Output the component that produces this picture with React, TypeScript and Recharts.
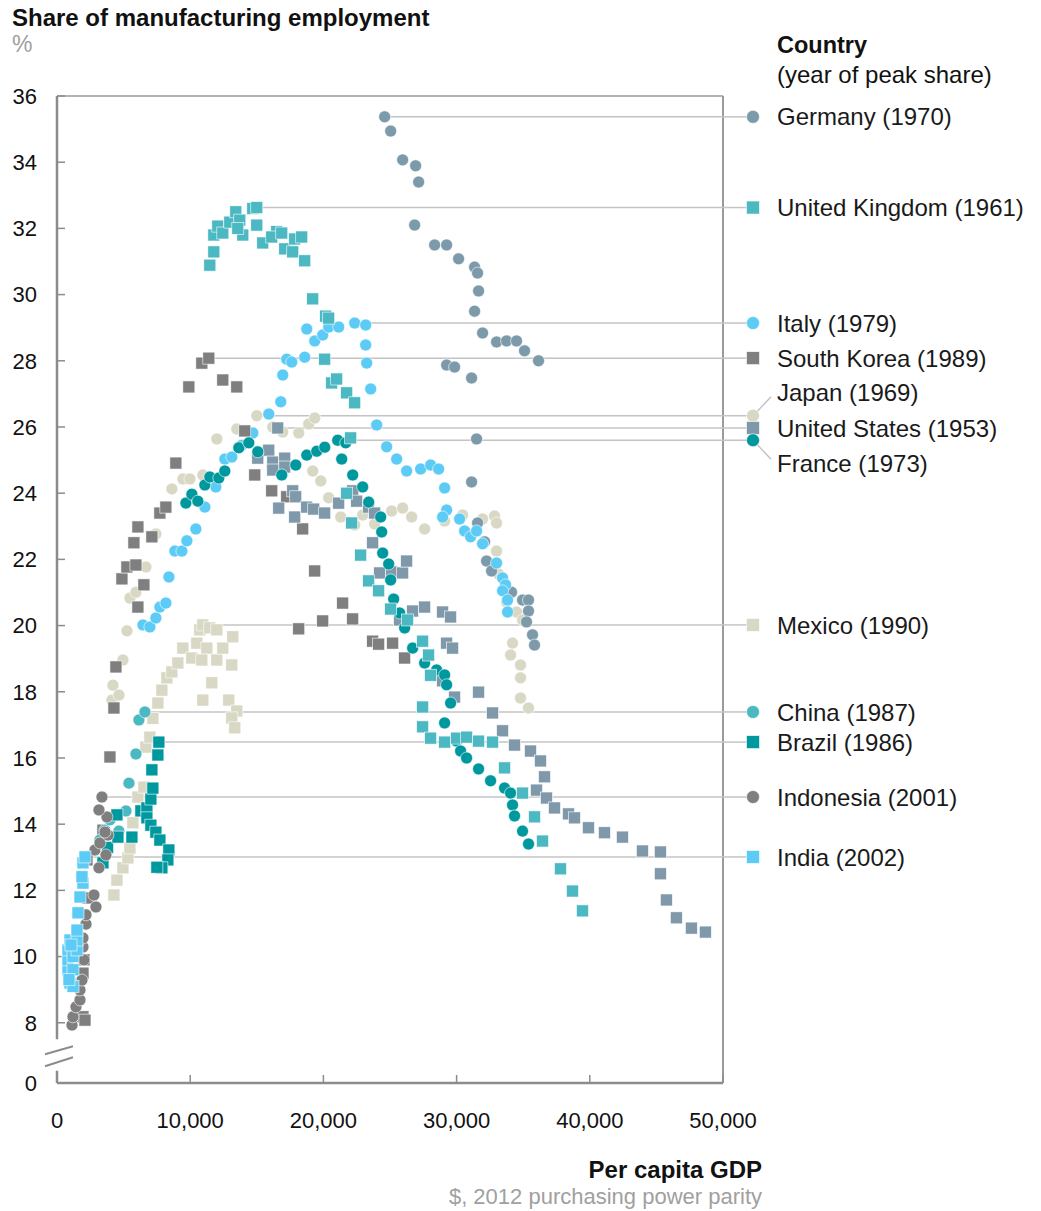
import React from 'react';
import { ScatterChart, Scatter, XAxis, YAxis, ReferenceLine, ReferenceDot } from 'recharts';

// [per capita GDP ($, 2012 PPP), share of manufacturing employment (%)]
type Pt = [number, number];

const GERMANY: Pt[] = [
  [24600, 35.37], [25050, 34.94], [25950, 34.07], [26925, 33.89], [27150, 33.4], [26850, 32.1],
  [28350, 31.5], [29250, 31.5], [30150, 31.08], [31350, 30.83], [31575, 30.65], [31650, 30.11],
  [31350, 29.5], [31950, 28.84], [33000, 28.57], [33750, 28.6], [34500, 28.6], [35100, 28.3],
  [36150, 28.0], [29250, 27.87], [29850, 27.81], [31125, 27.48], [31500, 25.64], [31125, 24.34],
  [31575, 23.1], [32100, 22.53], [32250, 21.95], [32625, 21.65], [34125, 21.01], [34950, 20.77],
  [35400, 20.77], [35400, 20.44], [35250, 20.11], [35700, 19.72], [35850, 19.41],
];

const UK: Pt[] = [
  [11475, 30.89], [11775, 31.29], [11775, 31.8], [12075, 32.07], [12450, 31.86], [12975, 32.19],
  [13425, 32.5], [13725, 32.25], [13950, 31.8], [13575, 32.0], [14700, 32.6], [15000, 32.1],
  [15000, 32.63], [15450, 31.56], [16500, 31.9], [16125, 31.74], [16875, 31.86], [17100, 31.38],
  [17700, 31.29], [17850, 31.68], [18375, 31.74], [18600, 31.02], [19200, 29.87], [20175, 29.35],
  [20400, 29.29], [20100, 28.05], [20625, 27.33], [21000, 27.45], [21750, 27.03], [22350, 26.73],
  [22050, 25.67], [21750, 24.0], [22125, 23.1], [22800, 22.13], [23400, 21.35], [24150, 21.05],
  [25050, 20.5], [26325, 20.17], [27450, 19.53], [27900, 19.11], [28050, 18.5], [27450, 17.54],
  [27450, 16.94], [28050, 16.6], [29100, 16.48], [30000, 16.6], [30750, 16.63], [31650, 16.51],
  [32700, 16.48], [33600, 15.7], [34950, 14.94], [35850, 14.22], [36450, 13.49], [37800, 12.65],
  [38700, 11.98], [39450, 11.38],
];

const ITALY: Pt[] = [
  [6450, 20.02], [6975, 19.96], [7425, 20.23], [7725, 20.56], [8175, 20.68], [8400, 21.47],
  [8850, 22.25], [9375, 22.25], [9750, 22.56], [10425, 22.92], [11100, 23.58], [11925, 24.19],
  [12600, 25.03], [13125, 25.09], [13875, 25.45], [14700, 25.82], [15900, 26.39], [16800, 26.76],
  [16950, 27.57], [17250, 28.05], [17625, 27.96], [18600, 28.11], [18750, 28.96], [19350, 28.6],
  [19950, 28.78], [20400, 29.02], [21150, 29.02], [22350, 29.14], [23175, 29.08], [23175, 28.48],
  [23250, 27.93], [23550, 27.15], [24000, 26.06], [24750, 25.4], [25500, 25.03], [26250, 24.67],
  [27300, 24.73], [28050, 24.85], [28650, 24.73], [29100, 24.16], [29250, 23.49], [28950, 23.28],
  [30225, 23.22], [30600, 22.86], [31050, 22.68], [31500, 22.86], [31950, 22.47], [33000, 21.89],
  [33450, 21.44], [33675, 21.23], [33450, 21.05], [33825, 20.77], [33825, 20.41],
];

const SOUTH_KOREA: Pt[] = [
  [1950, 8.18], [2100, 8.08], [1950, 9.5], [2025, 9.9], [2325, 11.77], [2250, 12.92], [3450, 13.82],
  [3975, 16.03], [4275, 17.51], [4425, 18.75], [4875, 21.41], [5250, 21.77], [5925, 21.83],
  [6525, 21.23], [6075, 20.56], [5775, 22.5], [6075, 22.98], [7125, 22.68], [7725, 23.4],
  [8175, 23.58], [8925, 24.91], [9900, 27.21], [10875, 27.93], [11400, 28.08], [12450, 27.42],
  [13500, 27.21], [14100, 25.88], [14850, 24.55], [16125, 24.07], [17250, 23.89], [18450, 22.92],
  [19350, 21.65], [21450, 20.68], [19950, 20.14], [18150, 19.9], [22200, 20.2], [23700, 19.53],
  [24150, 19.44], [25200, 19.47], [26100, 19.02],
];

const JAPAN: Pt[] = [
  [4125, 17.75], [4200, 18.2], [4650, 17.9], [4950, 18.96], [5250, 19.84], [5475, 20.83],
  [5925, 21.01], [6675, 21.77], [7425, 22.77], [8175, 23.58], [8625, 24.13], [9450, 24.43],
  [9975, 24.43], [10950, 24.55], [12000, 25.64], [13500, 25.94], [15000, 26.34], [16200, 26.0],
  [16950, 25.85], [18150, 25.82], [18900, 26.09], [19350, 26.27], [19200, 24.67], [19800, 24.37],
  [20400, 23.86], [21300, 23.28], [22350, 23.04], [22950, 23.34], [23850, 23.07], [25125, 23.46],
  [25950, 23.55], [26625, 23.28], [27600, 22.92], [29100, 23.16], [30450, 23.34], [31950, 23.22],
  [32850, 23.31], [33000, 23.1], [33000, 22.25], [33150, 21.56], [33750, 20.71], [34500, 20.41],
  [34950, 20.17], [34200, 19.47], [34050, 19.11], [34800, 18.81], [34800, 18.42], [34800, 17.81],
  [35400, 17.51],
];

const UNITED_STATES: Pt[] = [
  [16575, 25.97], [15900, 25.3], [15075, 25.06], [16200, 24.94], [17100, 25.06], [17100, 24.79],
  [16200, 24.7], [17700, 24.07], [17925, 23.89], [16650, 23.55], [17850, 23.28], [18750, 23.58],
  [19275, 23.52], [20100, 23.4], [21150, 23.7], [22200, 24.07], [22500, 23.76], [23400, 23.58],
  [23850, 23.4], [23700, 22.5], [24225, 21.59], [25125, 21.62], [25950, 21.59], [26250, 21.95],
  [26700, 20.44], [25725, 20.17], [27600, 20.56], [28950, 20.41], [29550, 20.26], [29250, 19.47],
  [29700, 19.32], [28950, 18.33], [29850, 17.84], [31650, 17.99], [32700, 17.36], [33450, 16.82],
  [34350, 16.39], [35550, 16.21], [36300, 15.91], [36600, 15.43], [36000, 15.03], [36750, 14.79],
  [37350, 14.49], [38400, 14.31], [38850, 14.19], [39900, 13.89], [41100, 13.74], [42450, 13.61],
  [43950, 13.19], [45300, 13.16], [45300, 12.5], [45750, 11.71], [46500, 11.17], [47625, 10.86],
  [48675, 10.74],
];

const FRANCE: Pt[] = [
  [9675, 23.7], [10125, 23.97], [10575, 23.76], [11100, 24.25], [11475, 24.49], [12150, 24.46],
  [12600, 24.67], [13650, 25.37], [14400, 25.52], [15075, 25.25], [16875, 24.55], [17925, 24.85],
  [18750, 25.15], [19500, 25.27], [20100, 25.39], [21075, 25.6], [21675, 25.52], [21375, 25.03],
  [22200, 24.55], [22950, 24.19], [23400, 23.73], [24300, 23.28], [24375, 22.83], [24450, 22.19],
  [24900, 21.86], [25050, 21.38], [25275, 20.8], [25725, 20.38], [26100, 19.93], [26700, 19.32],
  [27600, 18.87], [28500, 18.66], [29100, 18.51], [29250, 18.21], [29550, 17.66], [29100, 17.06],
  [30000, 16.51], [30300, 16.21], [30750, 16.0], [31650, 15.67], [32550, 15.31], [33600, 15.09],
  [34050, 14.94], [34200, 14.58], [34350, 14.25], [34950, 13.79], [35400, 13.4],
];

const MEXICO: Pt[] = [
  [4275, 11.86], [4500, 12.31], [4950, 12.68], [5325, 12.98], [5475, 13.28], [5700, 14.04],
  [6075, 14.82], [6525, 15.12], [6675, 16.33], [6975, 16.63], [7200, 17.2], [7575, 17.66],
  [7875, 18.05], [8250, 18.42], [8625, 18.6], [9075, 18.87], [9450, 19.32], [10125, 19.02],
  [10500, 19.47], [10725, 19.87], [10950, 20.02], [11475, 19.93], [12000, 19.87], [11250, 19.32],
  [10875, 18.96], [12000, 18.96], [12450, 19.32], [13200, 19.66], [13125, 18.81], [10950, 17.75],
  [11625, 18.27], [12900, 17.75], [13500, 17.42], [13125, 17.21], [13350, 16.91],
];

const CHINA: Pt[] = [
  [3225, 13.52], [3600, 13.82], [3975, 14.13], [4650, 13.79], [5175, 14.4], [5400, 15.24],
  [5925, 16.12], [6150, 17.15], [6600, 17.39],
];

const BRAZIL: Pt[] = [
  [3450, 12.83], [3800, 13.3], [4500, 14.28], [4575, 13.61], [5625, 13.61], [6300, 14.4],
  [6750, 14.49], [6750, 14.19], [7050, 14.76], [7200, 15.09], [7125, 15.64], [7575, 16.09],
  [7650, 16.48], [7050, 13.97], [7425, 13.76], [7725, 13.52], [8400, 13.22], [8325, 12.92],
  [7875, 12.68], [7500, 12.7],
];

const INDONESIA: Pt[] = [
  [1125, 7.93], [1200, 8.18], [1425, 8.48], [1725, 8.69], [1725, 8.99], [1875, 9.29], [2025, 9.9],
  [1950, 10.29], [1950, 10.56], [2175, 10.98], [2175, 11.26], [2925, 11.5], [2775, 11.86],
  [3150, 12.68], [3675, 13.07], [2850, 13.22], [3225, 13.43], [3825, 13.67], [3600, 13.76],
  [3750, 14.22], [3150, 14.43], [3375, 14.82],
];

const INDIA: Pt[] = [
  [825, 9.6], [825, 9.9], [825, 10.2], [975, 10.5], [975, 9.2], [1200, 9.1], [1200, 9.6],
  [1200, 10.0], [1500, 10.2], [1500, 10.5], [1500, 10.8], [1575, 11.32], [1725, 11.8],
  [1950, 12.22], [1875, 12.41], [1950, 12.83], [2100, 13.01], [900, 9.3], [1050, 10.35],
];

const X_TICKS = [0, 10000, 20000, 30000, 40000, 50000];
const Y_MIN = 6.18; // bottom of the broken axis, labelled "0"
const Y_TICKS = [Y_MIN, 8, 10, 12, 14, 16, 18, 20, 22, 24, 26, 28, 30, 32, 34, 36];

type Series = {
  name: string;
  year: number;
  data: Pt[];
  color: string;
  marker: 'circle' | 'square';
  labelDy: number;
};

// legend order (top to bottom)
const SERIES: Series[] = [
  { name: 'Germany', year: 1970, data: GERMANY, color: '#7d9aab', marker: 'circle', labelDy: 0 },
  { name: 'United Kingdom', year: 1961, data: UK, color: '#4cb8c2', marker: 'square', labelDy: 0 },
  { name: 'Italy', year: 1979, data: ITALY, color: '#5ccbf5', marker: 'circle', labelDy: 0 },
  { name: 'South Korea', year: 1989, data: SOUTH_KOREA, color: '#7f7f7f', marker: 'square', labelDy: 0 },
  { name: 'Japan', year: 1969, data: JAPAN, color: '#d9d8c5', marker: 'circle', labelDy: -23 },
  { name: 'United States', year: 1953, data: UNITED_STATES, color: '#7f99ab', marker: 'square', labelDy: 0 },
  { name: 'France', year: 1973, data: FRANCE, color: '#00989f', marker: 'circle', labelDy: 23 },
  { name: 'Mexico', year: 1990, data: MEXICO, color: '#d9d8c5', marker: 'square', labelDy: 0 },
  { name: 'China', year: 1987, data: CHINA, color: '#4cb8c2', marker: 'circle', labelDy: 0 },
  { name: 'Brazil', year: 1986, data: BRAZIL, color: '#00989f', marker: 'square', labelDy: 0 },
  { name: 'Indonesia', year: 2001, data: INDONESIA, color: '#7f7f7f', marker: 'circle', labelDy: 0 },
  { name: 'India', year: 2002, data: INDIA, color: '#5ccbf5', marker: 'square', labelDy: 0 },
];

// drawing order (first = bottom)
const DRAW_ORDER = ['Japan', 'Mexico', 'Germany', 'Italy', 'South Korea', 'United States', 'France',
  'United Kingdom', 'China', 'Brazil', 'Indonesia', 'India'];

const FONT = '"Liberation Sans", Arial, Helvetica, sans-serif';
const AXIS = '#8c8c8c';
const REF = '#c4c4c4';

const peakOf = (d: Pt[]) => d.reduce((a, b) => (b[1] > a[1] ? b : a));

const drawMarker = (marker: string, color: string, cx: number, cy: number, size = 12) =>
  marker === 'circle' ? (
    <circle cx={cx} cy={cy} r={size / 2} fill={color} stroke="#fff" strokeWidth={0.6} />
  ) : (
    <rect x={cx - size / 2} y={cy - size / 2} width={size} height={size} fill={color} stroke="#fff" strokeWidth={0.6} />
  );

const legendShape = (s: Series) => (props: any) => {
  const { cx, cy } = props;
  const mx = cx + 30;
  const ty = cy + s.labelDy;
  const sign = s.labelDy < 0 ? -1 : 1;
  return (
    <g>
      <line x1={cx} y1={cy} x2={mx} y2={cy} stroke={REF} strokeWidth={1.5} />
      {s.labelDy !== 0 && (
        <line x1={mx + 4} y1={cy + sign * 4} x2={mx + 18} y2={cy + sign * 19} stroke={REF} strokeWidth={1.5} />
      )}
      {drawMarker(s.marker, s.color, mx, cy, 13)}
      <text x={cx + 54} y={ty} dy="0.36em" fontSize={24} fontFamily={FONT} fill="#1a1a1a">
        {s.name} ({s.year})
      </text>
    </g>
  );
};

const breakShape = (props: any) => {
  const { cx, cy } = props;
  return (
    <g stroke={AXIS} strokeWidth={2}>
      <line x1={cx - 12} y1={cy} x2={cx + 16} y2={cy - 8} />
      <line x1={cx - 12} y1={cy + 12} x2={cx + 16} y2={cy + 3} />
    </g>
  );
};

const App: React.FC = () => {
  const tickStyle = { fontSize: 22, fontFamily: FONT, fill: '#111' };
  const txt: React.CSSProperties = { position: 'absolute', lineHeight: '24px', color: '#111', whiteSpace: 'nowrap', zIndex: 2 };
  return (
    <div style={{ position: 'relative', width: 1025, height: 1203, fontFamily: FONT, background: '#fff' }}>
      <ScatterChart width={1025} height={1195} margin={{ top: 88, right: 310, bottom: 70, left: 9 }}>
        <XAxis
          type="number"
          dataKey="x"
          domain={[0, 50000]}
          ticks={X_TICKS}
          allowDataOverflow
          height={50}
          tickFormatter={(v: number) => v.toLocaleString('en-US')}
          tick={tickStyle}
          tickSize={-8}
          tickMargin={37}
          tickLine={{ stroke: AXIS, strokeWidth: 1.5 }}
          axisLine={{ stroke: AXIS, strokeWidth: 2.5 }}
        />
        <YAxis
          type="number"
          dataKey="y"
          domain={[Y_MIN, 36]}
          ticks={Y_TICKS}
          allowDataOverflow
          width={40}
          tickFormatter={(v: number) => (v === Y_MIN ? '0' : String(v))}
          tick={tickStyle}
          tickSize={-8}
          tickMargin={28}
          tickLine={{ stroke: AXIS, strokeWidth: 1.5 }}
          axisLine={false}
        />

        {/* frame */}
        <ReferenceLine y={36} stroke="#9a9a9a" strokeWidth={1.5} />
        <ReferenceLine x={50000} stroke="#9a9a9a" strokeWidth={2} />
        <ReferenceLine segment={[{ x: 0, y: 36 }, { x: 0, y: 7.5 }]} stroke={AXIS} strokeWidth={2.5} />
        <ReferenceLine segment={[{ x: 0, y: 6.55 }, { x: 0, y: Y_MIN }]} stroke={AXIS} strokeWidth={2.5} />
        <ReferenceDot x={0} y={7.05} r={1} shape={breakShape} />

        {/* peak-share leader lines */}
        {SERIES.map((s) => {
          const [px, py] = peakOf(s.data);
          return (
            <ReferenceLine
              key={`ref-${s.name}`}
              segment={[{ x: px, y: py }, { x: 50000, y: py }]}
              stroke={REF}
              strokeWidth={1.5}
            />
          );
        })}

        {DRAW_ORDER.map((n) => {
          const s = SERIES.find((e) => e.name === n)!;
          return (
            <Scatter
              key={s.name}
              name={s.name}
              data={s.data.map(([x, y]) => ({ x, y }))}
              isAnimationActive={false}
              shape={(p: any) => drawMarker(s.marker, s.color, p.cx, p.cy)}
            />
          );
        })}

        {SERIES.map((s) => {
          const [, py] = peakOf(s.data);
          return <ReferenceDot key={`lg-${s.name}`} x={50000} y={py} r={1} shape={legendShape(s)} />;
        })}
      </ScatterChart>

      <div style={{ ...txt, left: 4, top: -2, fontSize: 24, fontWeight: 'bold' }}>
        Share of manufacturing employment
      </div>
      <div style={{ ...txt, left: 4, top: 24, fontSize: 23, color: '#a0a0a0' }}>%</div>
      <div style={{ ...txt, left: 769, top: 25, fontSize: 23.5, fontWeight: 'bold' }}>Country</div>
      <div style={{ ...txt, left: 769, top: 55, fontSize: 24 }}>(year of peak share)</div>
      <div style={{ ...txt, left: 354, width: 400, textAlign: 'right', top: 1150, fontSize: 24, fontWeight: 'bold' }}>
        Per capita GDP
      </div>
      <div style={{ ...txt, left: 354, width: 400, textAlign: 'right', top: 1177, fontSize: 22, color: '#a0a0a0' }}>
        $, 2012 purchasing power parity
      </div>
    </div>
  );
};

export default App;
